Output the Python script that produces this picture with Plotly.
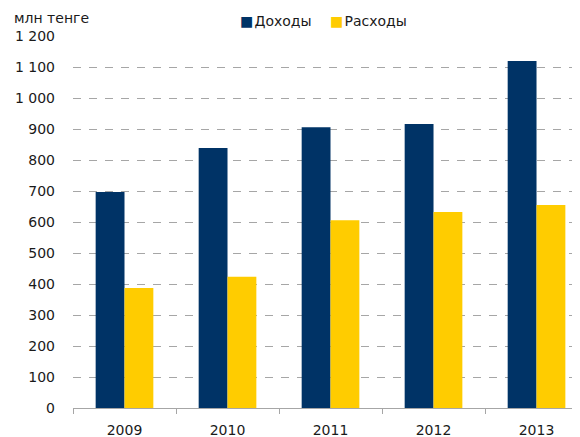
import plotly.graph_objects as go

# ---------------- data ----------------
YEARS = ["2009", "2010", "2011", "2012", "2013"]
INCOME = [697, 839, 906, 916, 1119]
EXPENSE = [387, 423, 606, 632, 655]

UNIT = "млн тенге"
NAME_INCOME = "Доходы"
NAME_EXPENSE = "Расходы"

# ---------------- theme ----------------
NAVY = "#003366"
YELLOW = "#FFCC00"
GRID = "#A6A6A6"
TEXT = "#1A1A1A"
FONT = dict(family="DejaVu Sans", size=14, color=TEXT)

# the page keeps the browser's 8px body margin, so the figure is sized to fit
W, H = 572, 429

fig = go.Figure()

fig.add_trace(
    go.Bar(
        x=YEARS,
        y=INCOME,
        name=NAME_INCOME,
        marker=dict(color=NAVY, line_width=0),
    )
)

fig.add_trace(
    go.Bar(
        x=YEARS,
        y=EXPENSE,
        name=NAME_EXPENSE,
        marker=dict(color=YELLOW, line_width=0),
    )
)


def legend_label(color, name):
    return (
        f"<span style='color:{color}'>■</span>"
        f"<span style='font-size:4px'> </span>{name}"
    )


fig.update_layout(
    width=W,
    height=H,
    paper_bgcolor="white",
    plot_bgcolor="white",
    font=FONT,
    separators=", ",
    barmode="group",
    bargap=0.44,
    bargroupgap=0,
    showlegend=False,
    margin=dict(l=65, r=3, t=28, b=29, autoexpand=False),
    annotations=[
        dict(
            text=UNIT,
            xref="paper",
            yref="paper",
            x=-0.121,
            y=1.049,
            xanchor="left",
            yanchor="middle",
            showarrow=False,
        ),
        dict(
            text=legend_label(NAVY, NAME_INCOME),
            xref="paper",
            yref="paper",
            x=0.327,
            y=1.041,
            xanchor="left",
            yanchor="middle",
            showarrow=False,
        ),
        dict(
            text=legend_label(YELLOW, NAME_EXPENSE),
            xref="paper",
            yref="paper",
            x=0.506,
            y=1.041,
            xanchor="left",
            yanchor="middle",
            showarrow=False,
        ),
    ],
)

fig.update_xaxes(
    type="category",
    range=[-0.5, 4.393],
    showgrid=False,
    showline=True,
    linecolor=GRID,
    linewidth=1,
    ticks="outside",
    tickson="boundaries",
    ticklen=5,
    tickcolor=GRID,
    ticklabelstandoff=9,
)

fig.update_yaxes(
    range=[0, 1200],
    dtick=100,
    tickformat=",d",
    showgrid=True,
    gridcolor=GRID,
    griddash="8px,8px",
    gridwidth=1,
    zeroline=False,
    showline=False,
    ticks="",
    ticklabelstandoff=17,
)

fig.write_html("out.html")
